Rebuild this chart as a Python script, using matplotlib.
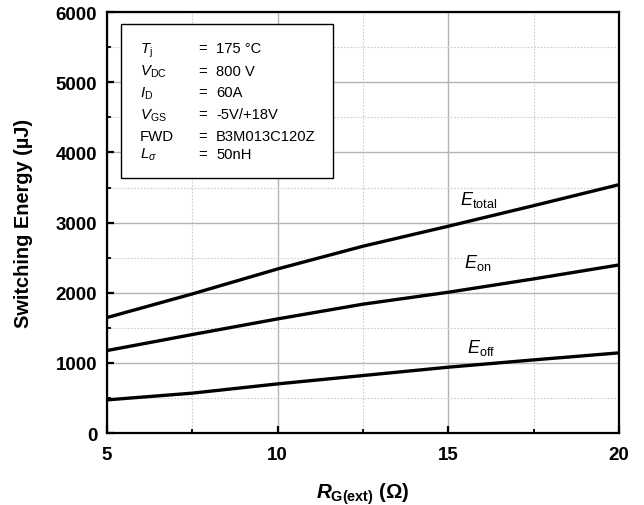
import matplotlib.pyplot as plt
from matplotlib.patches import Rectangle
from matplotlib.ticker import MultipleLocator

plt.rcParams['font.family'] = 'Liberation Sans'
plt.rcParams['mathtext.fontset'] = 'custom'
plt.rcParams['mathtext.rm'] = 'Liberation Sans'
plt.rcParams['mathtext.it'] = 'Liberation Sans:italic'
plt.rcParams['mathtext.bf'] = 'Liberation Sans:bold'
plt.rcParams['mathtext.bfit'] = 'Liberation Sans:bold:italic'

# gate resistance (ohm) and switching energies (uJ)
rg = [5, 7.5, 10, 12.5, 15, 17.5, 20]
e_total = [1647, 1984, 2340, 2664, 2949, 3242, 3541]
e_on = [1177, 1405, 1628, 1838, 2008, 2198, 2397]
e_off = [474, 570, 702, 821, 940, 1044, 1144]

cond_names = [r'$T_{\mathrm{j}}$', r'$V_{\mathrm{DC}}$', r'$I_{\mathrm{D}}$',
              r'$V_{\mathrm{GS}}$', 'FWD', r'$L_{\sigma}$']
cond_values = ['175 \u00b0C', '800 V', '60A', '-5V/+18V', 'B3M013C120Z', '50nH']

fig = plt.figure(figsize=(6.44, 5.06), dpi=100)
ax = fig.add_axes([0.166, 0.142, 0.795, 0.832])

ax.plot(rg, e_total, color='black', lw=2.4, solid_capstyle='butt')
ax.plot(rg, e_on, color='black', lw=2.4, solid_capstyle='butt')
ax.plot(rg, e_off, color='black', lw=2.4, solid_capstyle='butt')

ax.set_xlim(5, 20)
ax.set_ylim(0, 6000)
ax.xaxis.set_major_locator(MultipleLocator(5))
ax.xaxis.set_minor_locator(MultipleLocator(2.5))
ax.yaxis.set_major_locator(MultipleLocator(1000))
ax.yaxis.set_minor_locator(MultipleLocator(500))

ax.grid(which='major', color='#b4b4b4', lw=1.0, ls='-')
ax.grid(which='minor', color='#cccccc', lw=0.8, ls=(0, (1.5, 1.5)))
ax.set_axisbelow(True)

for s in ax.spines.values():
    s.set_linewidth(1.6)
ax.tick_params(which='major', direction='in', length=5, width=1.6,
               labelsize=13.5)
ax.tick_params(axis='x', which='major', pad=9)
ax.tick_params(axis='y', which='major', pad=7)
ax.tick_params(which='minor', direction='in', length=3, width=1.3)
for lab in ax.get_xticklabels() + ax.get_yticklabels():
    lab.set_fontweight('bold')

ax.set_ylabel('Switching Energy (\u00b5J)', fontsize=14.4, fontweight='bold', labelpad=16)
ax.set_xlabel(r'$\mathbfit{R}_{\mathbf{G(ext)}}\ \mathbf{(\Omega)}$', fontsize=14.8, labelpad=13)

# curve labels
ax.text(15.35, 3330, r'$E_{\mathrm{total}}$', fontsize=13, va='center', ha='left')
ax.text(15.45, 2440, r'$E_{\mathrm{on}}$', fontsize=13, va='center', ha='left')
ax.text(15.55, 1230, r'$E_{\mathrm{off}}$', fontsize=13, va='center', ha='left')

# test condition box
ax.add_patch(Rectangle((0.027, 0.606), 0.415, 0.367, transform=ax.transAxes,
                       facecolor='white', edgecolor='black', lw=1.0, zorder=3))
baselines = [53.3, 75.7, 97.3, 119.3, 140.7, 159.0]
for name, val, yb in zip(cond_names, cond_values, baselines):
    yf = (434.3 - yb) / 421.3
    ax.text(0.064, yf, name, transform=ax.transAxes, fontsize=10.8, va='baseline', zorder=4)
    ax.text(0.178, yf, '=', transform=ax.transAxes, fontsize=10.8, va='baseline', zorder=4)
    ax.text(0.213, yf, val, transform=ax.transAxes, fontsize=10.6, va='baseline', zorder=4)

fig.savefig('out.png', dpi=100)
